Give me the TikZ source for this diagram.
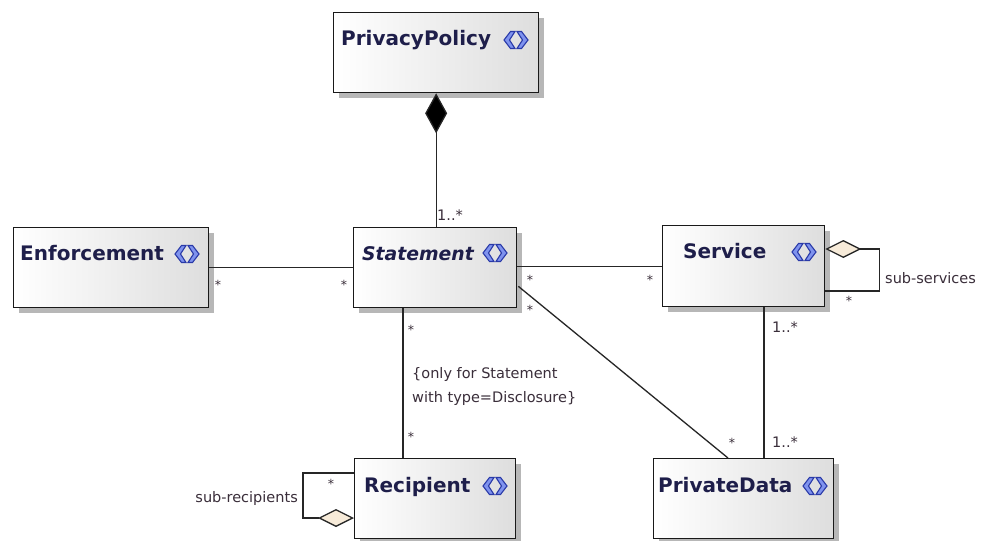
\documentclass[tikz,border=0pt]{standalone}
\usepackage{fontspec}
\setmainfont{DejaVu Sans}
\usetikzlibrary{arrows.meta,shadows,calc}

\definecolor{titleink}{HTML}{1E1E4A}
\definecolor{noteink}{HTML}{3A2E3A}
\definecolor{aggfill}{HTML}{F7EBD9}
\definecolor{iconblue}{HTML}{2A3AA8}
\definecolor{iconfill}{HTML}{7F93EE}

\tikzset{
  classbox/.style={draw=black!90, line width=1.3pt, left color=white, right color=black!13,
    anchor=north west, inner sep=0pt,
    drop shadow={shadow xshift=5pt, shadow yshift=-5pt, fill=black!35, opacity=0.8}},
  classname/.style={font=\bfseries\fontsize{20}{24}\selectfont, text=titleink, anchor=base west, inner sep=0pt},
  note/.style={font=\fontsize{14.5}{18}\selectfont, text=noteink, inner sep=0pt},
  mult/.style={note, font=\fontsize{12.5}{14}\selectfont, anchor=center},
  assoc/.style={draw=black!85, line width=1.3pt},
  aggtip/.tip={Diamond[length=36pt, width=18pt, fill=aggfill]},
  classicon/.pic={
    \filldraw[fill=iconfill, draw=iconblue, line width=1.1pt, line join=miter]
      (0,0) -- (6.5,-8.5) -- (11,-8.5) -- (5.5,0) -- (11,8.5) -- (6.5,8.5) -- cycle
      (24,0) -- (17.5,-8.5) -- (13,-8.5) -- (18.5,0) -- (13,8.5) -- (17.5,8.5) -- cycle;
  }
}

\begin{document}
\begin{tikzpicture}[x=1pt, y=-1pt]
  \fill[white] (0,0) rectangle (986,541);
  \useasboundingbox (0,0) rectangle (986,541);

  % class boxes
  \node[classbox, minimum width=205pt, minimum height=80pt] (pp) at (333,12) {};
  \node[classbox, minimum width=195pt, minimum height=80pt] (en) at (13,227) {};
  \node[classbox, minimum width=163pt, minimum height=80pt] (st) at (353,227) {};
  \node[classbox, minimum width=162pt, minimum height=81pt] (sv) at (662,225) {};
  \node[classbox, minimum width=161pt, minimum height=80pt] (rc) at (354,458) {};
  \node[classbox, minimum width=180pt, minimum height=80pt] (pd) at (653,458) {};

  % class names and icons
  \node[classname] (pp-name) at (341,45) {PrivacyPolicy};
  \pic at (504,40) {classicon};
  \node[classname] (en-name) at (20,260) {Enforcement};
  \pic at (175,254) {classicon};
  \node[classname, font=\bfseries\itshape\fontsize{18.8}{24}\selectfont] (st-name) at (362,260) {Statement};
  \pic at (483,253) {classicon};
  \node[classname] (sv-name) at (683,258) {Service};
  \pic at (792,252) {classicon};
  \node[classname] (rc-name) at (364,492) {Recipient};
  \pic at (483,486) {classicon};
  \node[classname] (pd-name) at (658,492) {PrivateData};
  \pic at (803,486) {classicon};

  % composition: PrivacyPolicy -- Statement
  \draw[assoc, {Diamond[length=40pt, width=22pt, fill=black]}-] (pp.south) -- (pp.south |- st.north);
  \node[note, anchor=west] (pp-st-m) at (437,215) {1..*};

  % Enforcement -- Statement
  \draw[assoc] (en.east) -- (st.west);
  \node[mult] (en-st-a) at (218,285) {*};
  \node[mult] (en-st-b) at (344,285) {*};

  % Statement -- Service
  \draw[assoc] (st.east |- sv.west) -- (sv.west);
  \node[mult] (st-sv-a) at (530,280) {*};
  \node[mult] (st-sv-b) at (650,280) {*};

  % Statement -- PrivateData
  \coordinate (st-pd-s) at ($(st.south east)+(1,-22)$);
  \coordinate (st-pd-e) at ($(pd.north west)+(75,0)$);
  \draw[assoc] (st-pd-s) -- (st-pd-e);
  \node[mult] (st-pd-a) at (530,310) {*};
  \node[mult] (st-pd-b) at (732,443) {*};

  % Statement -- Recipient
  \coordinate (st-rc-s) at ($(st.south west)+(50,0)$);
  \draw[assoc] (st-rc-s) -- (st-rc-s |- rc.north);
  \node[mult] (st-rc-a) at (411,330) {*};
  \node[mult] (st-rc-b) at (411,437) {*};
  \node[note, anchor=west] (cons-1) at (412,374) {\{only for Statement};
  \node[note, anchor=west] (cons-2) at (412,398) {with type=Disclosure\}};

  % Service -- PrivateData
  \coordinate (sv-pd-s) at ($(sv.south west)+(102,0)$);
  \draw[assoc] (sv-pd-s) -- (sv-pd-s |- pd.north);
  \node[note, anchor=west] (sv-pd-a) at (772,327) {1..*};
  \node[note, anchor=west] (sv-pd-b) at (772,442) {1..*};

  % Service self aggregation
  \coordinate (sv-loop) at ($(sv.north east)+(0,24)$);
  \draw[assoc, aggtip-] (sv-loop) -- ++(54,0) |- ($(sv.north east)+(0,66)$);
  \node[note, anchor=west] (sv-loop-l) at (885,278) {sub-services};
  \node[mult] (sv-loop-m) at (849,301) {*};

  % Recipient self aggregation
  \coordinate (rc-loop) at ($(rc.north west)+(0,15)$);
  \draw[assoc, -aggtip] (rc-loop) -- ++(-51,0) |- ($(rc.north west)+(0,60)$);
  \node[note, anchor=east] (rc-loop-l) at (298,498) {sub-recipients};
  \node[mult] (rc-loop-m) at (331,484) {*};
\end{tikzpicture}
\end{document}
